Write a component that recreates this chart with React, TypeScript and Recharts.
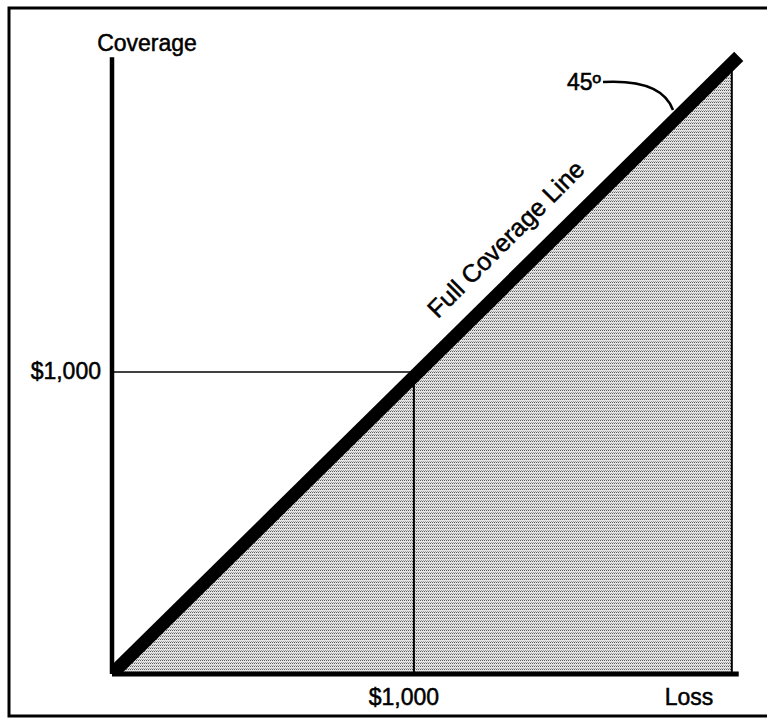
import React from 'react';
import { ComposedChart, Area, Line, XAxis, YAxis, ReferenceLine } from 'recharts';

// Data (in dollars)
const lossTicks = [1000];
const coverageTicks = [1000];
const tickLabel = (v: number) => `$${v.toLocaleString('en-US')}`;
const axisMax = 2100;
const deductible = 1000;
const fullCoverageLoss = [0, 2076];
const fullCoverageValue = [0, 2046];
const shadedLoss = [0, 2053];
const shadedCoverage = [0, 2023];
const yAxisTop = 2043;
const xAxisEnd = 2076;

const lineData = fullCoverageLoss.map((x, i) => ({ x, y: fullCoverageValue[i] }));
const shadeData = shadedLoss.map((x, i) => ({ x, y: shadedCoverage[i] }));

const FONT = '"Liberation Sans", Arial, Helvetica, sans-serif';
const textStyle = { fontFamily: FONT, fontSize: 23, fill: '#000', stroke: '#000', strokeWidth: 0.5 };

const XTick = (props: any) => {
  const { x, y, payload } = props;
  return (
    <text x={x - 10} y={y + 31} textAnchor="middle" style={textStyle}>
      {tickLabel(payload.value)}
    </text>
  );
};

const YTick = (props: any) => {
  const { x, y, payload } = props;
  return (
    <text x={x - 11} y={y + 7} textAnchor="end" style={textStyle}>
      {tickLabel(payload.value)}
    </text>
  );
};

export default function App() {
  return (
    <div style={{ position: 'absolute', left: 0, top: 0, width: 767, height: 718, background: '#fff' }}>
      <ComposedChart
        width={767}
        height={718}
        margin={{ top: 40, right: 21, bottom: 14, left: 12 }}
      >
        <defs>
          <pattern id="stipple" width="2" height="3" patternUnits="userSpaceOnUse">
            <rect x="0" y="0" width="2" height="3" fill="#e4e4e4" />
            <rect x="0" y="0" width="1" height="1" fill="#5a5a5a" />
            <rect x="1" y="2" width="1" height="1" fill="#a0a0a0" />
          </pattern>
        </defs>
        <XAxis
          type="number"
          dataKey="x"
          domain={[0, axisMax]}
          ticks={lossTicks}
          interval={0}
          axisLine={false}
          tickLine={false}
          tickSize={0}
          tickMargin={0}
          height={30}
          allowDataOverflow
          tick={<XTick />}
        />
        <YAxis
          type="number"
          dataKey="y"
          domain={[0, axisMax]}
          ticks={coverageTicks}
          interval={0}
          axisLine={false}
          tickLine={false}
          tickSize={0}
          tickMargin={0}
          width={100}
          allowDataOverflow
          tick={<YTick />}
        />
        <Area
          data={shadeData}
          dataKey="y"
          type="linear"
          stroke="none"
          fill="url(#stipple)"
          fillOpacity={1}
          isAnimationActive={false}
        />
        <ReferenceLine
          segment={[{ x: shadedLoss[1], y: 0 }, { x: shadedLoss[1], y: shadedCoverage[1] }]}
          stroke="#000"
          strokeWidth={2}
        />
        <ReferenceLine
          segment={[{ x: deductible, y: 0 }, { x: deductible, y: deductible }]}
          stroke="#000"
          strokeWidth={2}
        />
        <ReferenceLine
          segment={[{ x: 0, y: deductible }, { x: deductible, y: deductible }]}
          stroke="#000"
          strokeWidth={1.5}
        />
        <Line
          data={lineData}
          dataKey="y"
          type="linear"
          stroke="#000"
          strokeWidth={13}
          dot={false}
          activeDot={false}
          isAnimationActive={false}
        />
        <ReferenceLine
          segment={[{ x: 0, y: 0 }, { x: xAxisEnd, y: 0 }]}
          stroke="#000"
          strokeWidth={5}
        />
        <ReferenceLine
          segment={[{ x: 0, y: 0 }, { x: 0, y: yAxisTop }]}
          stroke="#000"
          strokeWidth={4.5}
        />
        {/* frame */}
        <path d="M 767 8 L 9 8 L 9 716 L 767 716" fill="none" stroke="#000" strokeWidth={3} />
        {/* labels */}
        <text x={147} y={51} textAnchor="middle" style={textStyle}>Coverage</text>
        <text x={689} y={705} textAnchor="middle" style={textStyle}>Loss</text>
        <text
          x={512}
          y={245}
          textAnchor="middle"
          style={{ ...textStyle, fontSize: 25 }}
          transform="rotate(-45 512 245)"
        >
          Full Coverage Line
        </text>
        <text x={567} y={90} style={textStyle}>45º</text>
        <path d="M 603 82 C 640 80 665 88 673 110" fill="none" stroke="#000" strokeWidth={2.5} />
      </ComposedChart>
    </div>
  );
}
